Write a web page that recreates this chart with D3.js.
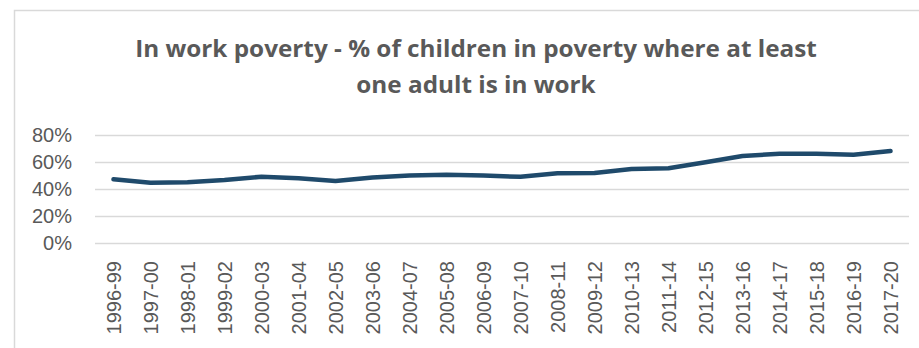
<!DOCTYPE html>
<html>
<head>
<meta charset="utf-8">
<script src="https://cdn.jsdelivr.net/npm/d3@7"></script>
<style>
  body { margin: 0; background: #fff; }
  svg { display: block; }
</style>
</head>
<body>
<div id="chart"></div>
<script>
let width = 919;
let height = 348;

// data
let years = ["1996-99", "1997-00", "1998-01", "1999-02", "2000-03", "2001-04", "2002-05",
  "2003-06", "2004-07", "2005-08", "2006-09", "2007-10", "2008-11", "2009-12", "2010-13",
  "2011-14", "2012-15", "2013-16", "2014-17", "2015-18", "2016-19", "2017-20"];
let inWork = [47.2, 44.7, 45.0, 46.7, 49.1, 48.0, 46.0, 48.5, 50.0, 50.6, 50.0, 49.0,
  51.6, 51.8, 54.8, 55.3, 59.8, 64.4, 66.2, 66.2, 65.4, 68.1];
let yTicks = [0, 20, 40, 60, 80];
let titleLines = ["In work poverty - % of children in poverty where at least", "one adult is in work"];

let margin = ({top: 135, right: 10, bottom: 105, left: 95});

let data = years.map((d, i) => ({x: d, y: inWork[i]}));

let x = d3.scaleBand()
  .domain(years)
  .range([margin.left, width - margin.right])
  .padding(0);

let y = d3.scaleLinear()
  .domain([0, 80])
  .range([243, 135]);

let svg = d3.select("#chart")
  .append("svg")
  .attr("width", width)
  .attr("height", height)
  .attr("viewBox", [0, 0, width, height]);

// chart frame
svg.append("rect")
  .attr("x", 14.5)
  .attr("y", 10.5)
  .attr("width", 1000)
  .attr("height", 1000)
  .attr("fill", "none")
  .attr("stroke", "#d9d9d9")
  .attr("stroke-width", 1.5);

// title (narrow bold face, so squeeze a wider font horizontally)
let title = svg.append("g");
title.selectAll("text")
  .data(titleLines)
  .join("text")
  .attr("x", 0)
  .attr("y", (d, i) => 57 + i * 36)
  .attr("text-anchor", "middle")
  .attr("font-family", "'Open Sans', sans-serif")
  .attr("font-weight", "bold")
  .attr("font-size", 24)
  .attr("fill", "#595959")
  .text(d => d);

let w0 = title.select("text").node().getComputedTextLength();
let sx = w0 > 0 ? 682 / w0 : 1;
title.attr("transform", `translate(476,0) scale(${sx},1)`);

// gridlines + y labels
let yAxis = g => g
  .attr("transform", `translate(${margin.left},0)`)
  .call(d3.axisLeft(y).tickValues(yTicks).tickFormat(d => d + "%")
    .tickSize(-(width - margin.right - margin.left)).tickPadding(23))
  .call(g => g.select(".domain").remove())
  .call(g => g.selectAll(".tick line").attr("stroke", "#d9d9d9").attr("stroke-width", 1.5))
  .call(g => g.selectAll(".tick text")
    .attr("font-family", "'Liberation Sans', Arial, sans-serif")
    .attr("font-size", 20)
    .attr("fill", "#595959"));

svg.append("g").attr("class", "y-axis").call(yAxis);

// x labels
let xAxis = g => g
  .attr("transform", `translate(0,${y(0)})`)
  .call(d3.axisBottom(x).tickSize(0).tickPadding(0))
  .call(g => g.select(".domain").remove())
  .call(g => g.selectAll(".tick text")
    .attr("transform", "rotate(-90)")
    .attr("text-anchor", "end")
    .attr("x", -18)
    .attr("y", 0)
    .attr("dy", "0.35em")
    .attr("font-family", "'Liberation Sans', Arial, sans-serif")
    .attr("font-size", 20)
    .attr("fill", "#595959"));

svg.append("g").attr("class", "x-axis").call(xAxis);

// line
let line = d3.line()
  .x(d => x(d.x) + x.bandwidth() / 2)
  .y(d => y(d.y));

svg.append("path")
  .datum(data)
  .attr("fill", "none")
  .attr("stroke", "#1f4a6b")
  .attr("stroke-width", 4.5)
  .attr("stroke-linecap", "round")
  .attr("stroke-linejoin", "round")
  .attr("d", line);
</script>
</body>
</html>
